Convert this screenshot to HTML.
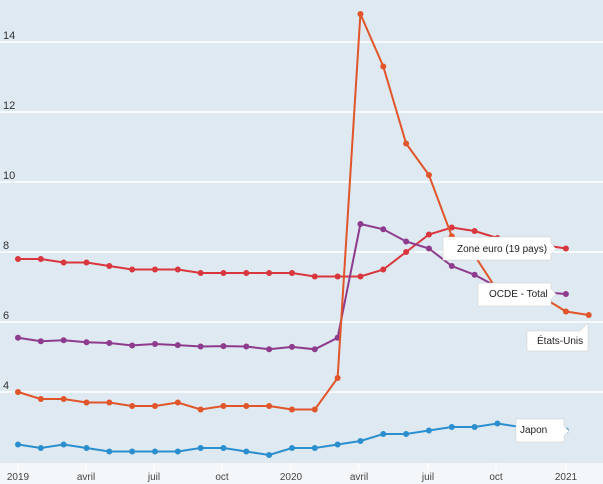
<!DOCTYPE html>
<html><head><meta charset="utf-8"><style>
html,body{margin:0;padding:0;background:#fff}
svg{display:block;font-family:"Liberation Sans",sans-serif}
</style></head><body>
<svg id="c" width="603" height="484" viewBox="0 0 603 484" xmlns="http://www.w3.org/2000/svg">
<rect x="0" y="0" width="603" height="463" fill="#dfe9f1"/>
<rect x="0" y="463" width="603" height="21" fill="#f4f7fa"/>
<g id="grid"></g>
<g id="series"></g>
<g font-size="11" fill="#333">
<text x="3" y="39">14</text><text x="3" y="109">12</text><text x="3" y="179">10</text>
<text x="3" y="249">8</text><text x="3" y="319">6</text><text x="3" y="389">4</text>
</g>
<g font-size="10" fill="#444" text-anchor="middle">
<text x="18" y="480">2019</text><text x="86" y="480">avril</text><text x="154" y="480">juil</text>
<text x="222" y="480">oct</text><text x="291" y="480">2020</text><text x="359" y="480">avril</text>
<text x="428" y="480">juil</text><text x="496" y="480">oct</text><text x="566" y="480">2021</text>
</g>
<g font-size="10" fill="#222">
<path d="M443 237H551V243L556 249L551 254V260H443Z" fill="#fff" stroke="#ccc" stroke-width="0.5"/>
<text x="457" y="252">Zone euro (19 pays)</text>
<path d="M478 283H551V289L556 294L551 299V306H478Z" fill="#fff" stroke="#ccc" stroke-width="0.5"/>
<text x="489" y="297">OCDE - Total</text>
<path d="M527 331H580L588 323V351H527Z" fill="#fff" stroke="#ccc" stroke-width="0.5"/>
<text x="537" y="344">États-Unis</text>
<path d="M516 419H564V426L569 431L564 436V442H516Z" fill="#fff" stroke="#ccc" stroke-width="0.5"/>
<text x="520" y="433">Japon</text>
</g>
</svg>
<script>
var ns="http://www.w3.org/2000/svg";
function X(i){return 18+i*22.83}function Y(v){return 532-35*v}
var g=document.getElementById('grid');
[42,112,182,252,322,392].forEach(function(y){var l=document.createElementNS(ns,'line');l.setAttribute('x1',0);l.setAttribute('x2',603);l.setAttribute('y1',y);l.setAttribute('y2',y);l.setAttribute('stroke','#fff');l.setAttribute('stroke-width','1.5');g.appendChild(l);});
[18,86,154,222,291,359,428,496,566].forEach(function(x){var l=document.createElementNS(ns,'line');l.setAttribute('x1',x);l.setAttribute('x2',x);l.setAttribute('y1',463);l.setAttribute('y2',470);l.setAttribute('stroke','#fff');g.appendChild(l);});
var S=[
["#d9363e",[7.8,7.8,7.7,7.7,7.6,7.5,7.5,7.5,7.4,7.4,7.4,7.4,7.4,7.3,7.3,7.3,7.5,8.0,8.5,8.7,8.6,8.4,8.3,8.2,8.1]],
["#8e3b8e",[5.55,5.45,5.48,5.42,5.4,5.33,5.37,5.34,5.3,5.31,5.3,5.22,5.29,5.22,5.55,8.8,8.65,8.3,8.1,7.6,7.35,7.0,6.9,6.85,6.8]],
["#e0552a",[4.0,3.8,3.8,3.7,3.7,3.6,3.6,3.7,3.5,3.6,3.6,3.6,3.5,3.5,4.4,14.8,13.3,11.1,10.2,8.45,7.9,6.9,6.7,6.7,6.3,6.2]],
["#2b8fcf",[2.5,2.4,2.5,2.4,2.3,2.3,2.3,2.3,2.4,2.4,2.3,2.2,2.4,2.4,2.5,2.6,2.8,2.8,2.9,3.0,3.0,3.1,3.0,3.0,2.9]]];
var sg=document.getElementById('series');
S.forEach(function(s){var p=s[1].map(function(v,i){return X(i).toFixed(1)+','+Y(v).toFixed(1)}).join(' ');
var pl=document.createElementNS(ns,'polyline');pl.setAttribute('points',p);pl.setAttribute('fill','none');pl.setAttribute('stroke',s[0]);pl.setAttribute('stroke-width','2');sg.appendChild(pl);
s[1].forEach(function(v,i){var c=document.createElementNS(ns,'circle');c.setAttribute('cx',X(i));c.setAttribute('cy',Y(v));c.setAttribute('r','3');c.setAttribute('fill',s[0]);sg.appendChild(c);});});
</script>
</body></html>
